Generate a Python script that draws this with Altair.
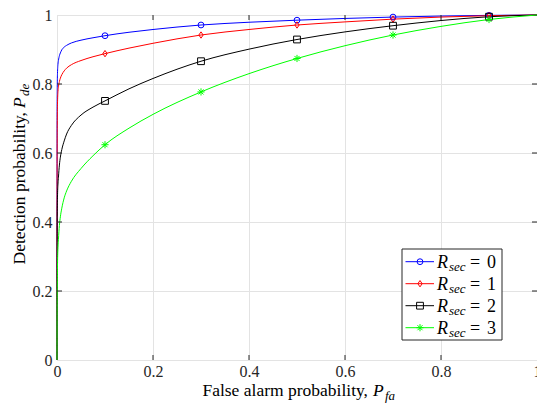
import altair as alt
import pandas as pd

# ---------------- data ----------------
series = ["R0", "R1", "R2", "R3"]
legend_digits = ["0", "1", "2", "3"]
colors = ["#0000ff", "#ff0000", "#000000", "#00ff00"]

pfa = [0, 0.0002, 0.0005, 0.001, 0.002, 0.003, 0.005, 0.007, 0.01, 0.015,
       0.02, 0.03, 0.05, 0.075, 0.1, 0.15, 0.2, 0.3, 0.4, 0.5, 0.6, 0.7,
       0.8, 0.9, 1.0]
pde_r0 = [0, 0.72, 0.79, 0.83, 0.857, 0.868, 0.882, 0.89, 0.899, 0.907,
          0.912, 0.919, 0.927, 0.934, 0.94, 0.95, 0.958, 0.971, 0.979, 0.985,
          0.99, 0.994, 0.997, 0.999, 1.0]
pde_r1 = [0, 0.58, 0.68, 0.74, 0.778, 0.792, 0.807, 0.817, 0.827, 0.838,
          0.846, 0.856, 0.868, 0.879, 0.888, 0.904, 0.918, 0.942, 0.958, 0.971,
          0.98, 0.988, 0.994, 0.998, 1.0]
pde_r2 = [0, 0.33, 0.42, 0.47, 0.51, 0.53, 0.565, 0.588, 0.61, 0.635,
          0.655, 0.68, 0.71, 0.733, 0.751, 0.786, 0.816, 0.866, 0.901, 0.929,
          0.951, 0.969, 0.984, 0.995, 1.0]
pde_r3 = [0, 0.14, 0.20, 0.27, 0.325, 0.35, 0.39, 0.415, 0.44, 0.47,
          0.49, 0.518, 0.555, 0.592, 0.624, 0.672, 0.712, 0.777, 0.83, 0.874,
          0.911, 0.942, 0.967, 0.987, 1.0]
marker_pfa = [0.1, 0.3, 0.5, 0.7, 0.9]

axis_ticks = [0, 0.2, 0.4, 0.6, 0.8, 1]
inner_ticks = [0.2, 0.4, 0.6, 0.8]

x_title_parts = ["False alarm probability,", "P", "fa"]
y_title_parts = ["Detection probability,", "P", "de"]
legend_parts = ["R", "sec", "="]

# ---------------- styling ----------------
FONT = "Liberation Serif, 'Times New Roman', serif"
W, H = 480, 345
AX = "#262626"

asterisk = "M0,-1V1M-1,0H1M-0.7,-0.7L0.7,0.7M-0.7,0.7L0.7,-0.7"
diamond = "M0,-1L0.68,0L0,1L-0.68,0Z"
shapes = ["circle", diamond, "square", asterisk]
sizes = [34, 52, 24, 56]

curves = [pde_r0, pde_r1, pde_r2, pde_r3]
rows = []
for s, ys in zip(series, curves):
    for xv, yv in zip(pfa, ys):
        rows.append({"series": s, "pfa": xv, "pde": yv})
df = pd.DataFrame(rows)
df_mark = df[df["pfa"].isin(marker_pfa)]

color_scale = alt.Scale(domain=series, range=colors)
shape_scale = alt.Scale(domain=series, range=shapes)
size_scale = alt.Scale(domain=series, range=sizes)

axis_common = dict(values=axis_ticks, format="~g", title=None,
                   labelFont=FONT, labelFontSize=16, labelColor=AX,
                   ticks=False, domain=False, grid=True,
                   gridColor="#e3e3e3", labelFlush=False,
                   labelOverlap=False, labelBound=False)
x_enc = alt.X("pfa:Q", scale=alt.Scale(domain=[0, 1], nice=False),
              axis=alt.Axis(labelPadding=3, **axis_common))
y_enc = alt.Y("pde:Q", scale=alt.Scale(domain=[0, 1], nice=False),
              axis=alt.Axis(labelPadding=5, **axis_common))

lines = alt.Chart(df).mark_line(strokeWidth=1, interpolate="monotone").encode(
    x=x_enc, y=y_enc,
    color=alt.Color("series:N", scale=color_scale, legend=None),
    order="pfa:Q",
)
points = alt.Chart(df_mark).mark_point(filled=False, strokeWidth=1, opacity=1).encode(
    x="pfa:Q", y="pde:Q",
    color=alt.Color("series:N", scale=color_scale, legend=None),
    shape=alt.Shape("series:N", scale=shape_scale, legend=None),
    size=alt.Size("series:N", scale=size_scale, legend=None),
)

# inward ticks on all four sides
tdf = pd.DataFrame({"t": inner_ticks})
tick_style = dict(color=AX, strokeWidth=1)
xt_bot = alt.Chart(tdf).mark_rule(**tick_style).encode(x="t:Q", y=alt.value(H), y2=alt.value(H - 5))
xt_top = alt.Chart(tdf).mark_rule(**tick_style).encode(x="t:Q", y=alt.value(0), y2=alt.value(5))
yt_left = alt.Chart(tdf).mark_rule(**tick_style).encode(y="t:Q", x=alt.value(0), x2=alt.value(5))
yt_right = alt.Chart(tdf).mark_rule(**tick_style).encode(y="t:Q", x=alt.value(W), x2=alt.value(W - 5))

# axis titles (with italic symbol and subscript)
one = pd.DataFrame({"k": [0]})
def txt(s, x, y, size=17.5, italic=False, align="left", angle=0):
    kw = dict(font=FONT, fontSize=size, color="#000000", align=align,
              baseline="alphabetic", angle=angle)
    if italic:
        kw["fontStyle"] = "italic"
    return alt.Chart(one).mark_text(**kw).encode(
        x=alt.value(x), y=alt.value(y), text=alt.value(s))

xt1 = txt(x_title_parts[0], 311, 381, align="right")
xt2 = txt(x_title_parts[1], 316, 381, italic=True)
xt3 = txt(x_title_parts[2], 328, 385, size=13, italic=True)
yt1 = txt(y_title_parts[0], -32, 97, align="right", angle=270)
yt2 = txt(y_title_parts[1], -32, 93, italic=True, angle=270)
yt3 = txt(y_title_parts[2], -28, 81, size=13, italic=True, angle=270)

# manual legend
ldf = pd.DataFrame({"series": series, "digit": legend_digits, "row": list(range(4))})
lbase = alt.Chart(ldf).transform_calculate(ly="246.7 + 22 * datum.row")
ly = alt.Y("ly:Q", scale=None)
box = alt.Chart(one).mark_rect(fill="white", stroke=AX, strokeWidth=1).encode(
    x=alt.value(345), x2=alt.value(445), y=alt.value(234), y2=alt.value(325))
lseg = lbase.mark_rule(strokeWidth=1).encode(
    x=alt.value(348.5), x2=alt.value(377), y=ly,
    color=alt.Color("series:N", scale=color_scale, legend=None))
lpt = lbase.mark_point(filled=False, strokeWidth=1, opacity=1).encode(
    x=alt.value(363), y=ly,
    color=alt.Color("series:N", scale=color_scale, legend=None),
    shape=alt.Shape("series:N", scale=shape_scale, legend=None),
    size=alt.Size("series:N", scale=size_scale, legend=None))
lR = lbase.mark_text(font=FONT, fontSize=18, fontStyle="italic", align="left",
                     baseline="alphabetic", dy=6).encode(
    x=alt.value(380), y=ly, text=alt.value(legend_parts[0]))
lsec = lbase.mark_text(font=FONT, fontSize=13, fontStyle="italic", align="left",
                       baseline="alphabetic", dy=9).encode(
    x=alt.value(392), y=ly, text=alt.value(legend_parts[1]))
leq = lbase.mark_text(font=FONT, fontSize=18, align="left",
                      baseline="alphabetic", dy=6).encode(
    x=alt.value(413), y=ly, text=alt.value(legend_parts[2]))
ldig = lbase.mark_text(font=FONT, fontSize=18, align="left",
                       baseline="alphabetic", dy=6).encode(
    x=alt.value(430), y=ly, text="digit:N")

chart = alt.layer(
    lines, points, xt_bot, xt_top, yt_left, yt_right,
    xt1, xt2, xt3, yt1, yt2, yt3,
    box, lseg, lpt, lR, lsec, leq, ldig,
).properties(
    width=W, height=H,
    autosize=alt.AutoSizeParams(type="none"),
    padding={"left": 49, "top": 7, "right": 0, "bottom": 50},
).configure_view(stroke=AX, strokeWidth=1).configure(background="white")

chart.save("out.html", embed_options={"renderer": "svg", "actions": False})
